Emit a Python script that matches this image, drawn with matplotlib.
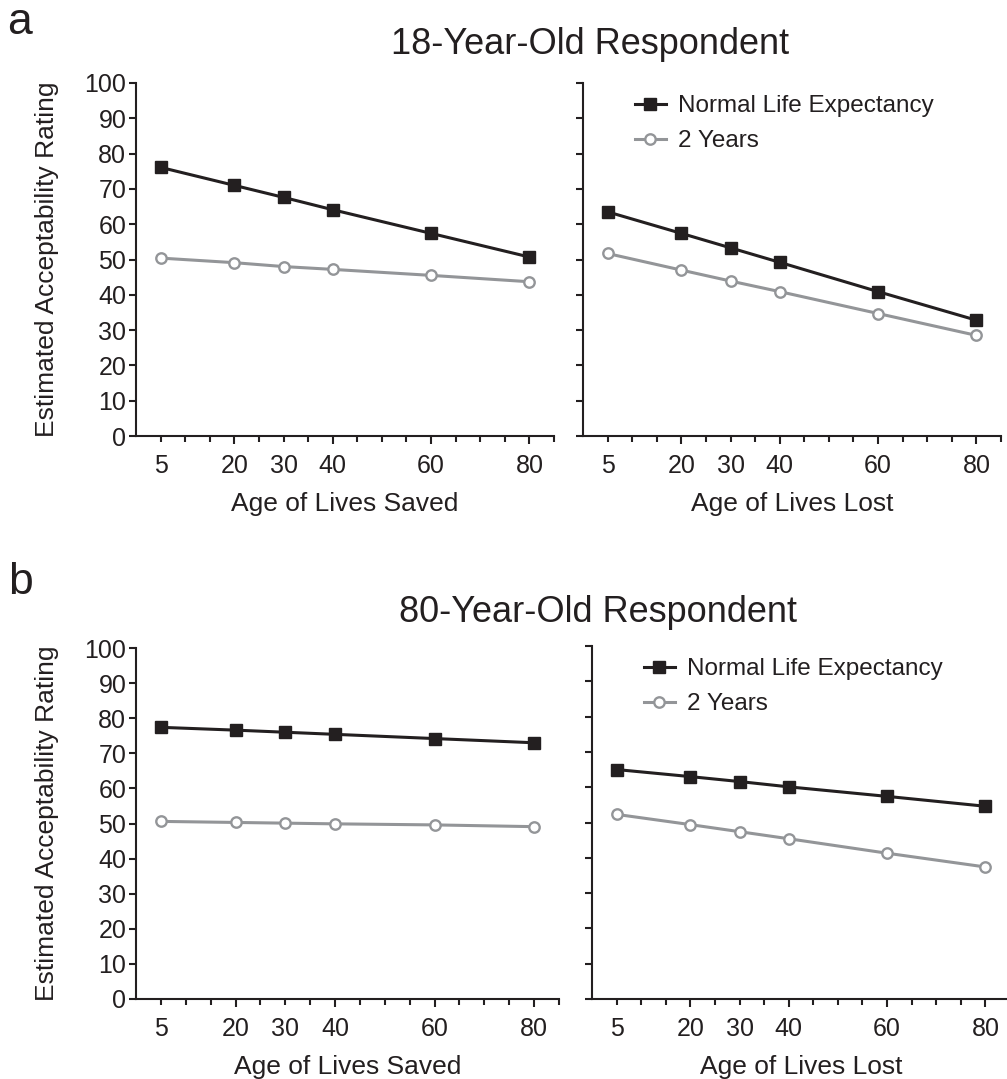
import matplotlib
matplotlib.use("Agg")
import matplotlib.pyplot as plt

plt.rcParams['font.family'] = ['Liberation Sans', 'DejaVu Sans']

W, H = 1007, 1079

AGES = [5, 20, 30, 40, 60, 80]
TICK_LABELS = ['5', '20', '30', '40', '60', '80']

# 18-year-old respondent
A_SAVED_NORMAL = [76.1, 71.0, 67.6, 64.1, 57.4, 50.7]
A_SAVED_2YR = [50.4, 49.1, 48.0, 47.2, 45.5, 43.7]
A_LOST_NORMAL = [63.5, 57.4, 53.3, 49.2, 40.9, 32.8]
A_LOST_2YR = [51.7, 47.0, 43.9, 40.9, 34.7, 28.5]

# 80-year-old respondent
B_SAVED_NORMAL = [77.4, 76.6, 76.0, 75.4, 74.2, 73.0]
B_SAVED_2YR = [50.6, 50.3, 50.1, 49.9, 49.6, 49.1]
B_LOST_NORMAL = [65.0, 63.0, 61.6, 60.1, 57.4, 54.6]
B_LOST_2YR = [52.3, 49.4, 47.4, 45.4, 41.3, 37.4]

SERIES_NAMES = ['Normal Life Expectancy', '2 Years']

DARK = '#231f20'
GREY = '#939598'
TICK_FS = 18
LABEL_FS = 19
LEG_FS = 17.5


def px_axes(fig, x0, y_top, x1, y_bot):
    return fig.add_axes([x0 / W, 1 - y_bot / H, (x1 - x0) / W, (y_bot - y_top) / H])


def style(ax, show_ylabels):
    ax.set_xlim(0, 85)
    ax.set_ylim(0, 100)
    for s in ['top', 'right']:
        ax.spines[s].set_visible(False)
    for s in ['left', 'bottom']:
        ax.spines[s].set_linewidth(1.5)
        ax.spines[s].set_color(DARK)
    ax.set_yticks(range(0, 101, 10))
    if not show_ylabels:
        ax.set_yticklabels([])
    ax.tick_params(axis='y', length=5, width=1.5, color=DARK, labelsize=TICK_FS,
                   labelcolor=DARK, pad=2)
    # long ticks at 20/40/60/80, short ones every 5
    major = [20, 40, 60, 80]
    minor = [v for v in range(5, 90, 5) if v not in major]
    ax.set_xticks(major, labels=['20', '40', '60', '80'])
    ax.set_xticks(minor, labels=[str(v) if str(v) in TICK_LABELS else '' for v in minor],
                  minor=True)
    ax.tick_params(axis='x', which='major', length=6, width=1.5, color=DARK,
                   labelsize=TICK_FS, labelcolor=DARK, pad=7)
    ax.tick_params(axis='x', which='minor', length=4, width=1.5, color=DARK,
                   labelsize=TICK_FS, labelcolor=DARK, pad=9)


def draw(ax, normal, two):
    ax.plot(AGES, normal, color=DARK, lw=2.2, marker='s', ms=8.5, mfc=DARK, mec=DARK,
            label=SERIES_NAMES[0], clip_on=False, zorder=3)
    ax.plot(AGES, two, color=GREY, lw=2.2, marker='o', ms=7.5, mfc='white', mec=GREY,
            mew=1.7, label=SERIES_NAMES[1], clip_on=False, zorder=3)


fig = plt.figure(figsize=(W / 100, H / 100), dpi=100)

ax1 = px_axes(fig, 136, 83, 554, 436)
ax2 = px_axes(fig, 583, 83, 1001, 436)
ax3 = px_axes(fig, 136, 648, 559, 999)
ax4 = px_axes(fig, 592, 646, 1010, 999)

draw(ax1, A_SAVED_NORMAL, A_SAVED_2YR)
draw(ax2, A_LOST_NORMAL, A_LOST_2YR)
draw(ax3, B_SAVED_NORMAL, B_SAVED_2YR)
draw(ax4, B_LOST_NORMAL, B_LOST_2YR)

for ax, lab in [(ax1, True), (ax2, False), (ax3, True), (ax4, False)]:
    style(ax, lab)

for ax, xl in [(ax1, 'Age of Lives Saved'), (ax2, 'Age of Lives Lost'),
               (ax3, 'Age of Lives Saved'), (ax4, 'Age of Lives Lost')]:
    ax.set_xlabel(xl, fontsize=LABEL_FS, color=DARK, labelpad=10)

for ax in (ax1, ax3):
    ax.set_ylabel('Estimated Acceptability Rating', fontsize=LABEL_FS, color=DARK,
                  labelpad=18)

for ax in (ax2, ax4):
    ax.legend(loc='upper left', bbox_to_anchor=(0.125, 0.965), frameon=False,
              fontsize=LEG_FS, handlelength=1.25, handletextpad=0.5, labelspacing=0.53,
              borderaxespad=0, borderpad=0, labelcolor=DARK)

fig.text(590 / W, 1 - 45 / H, '18-Year-Old Respondent', fontsize=26, color=DARK,
         ha='center', va='center')
fig.text(598 / W, 1 - 612 / H, '80-Year-Old Respondent', fontsize=26, color=DARK,
         ha='center', va='center')
fig.text(7 / W, 1 - 22 / H, 'a', fontsize=32, color=DARK, ha='left', va='center')
fig.text(8 / W, 1 - 582 / H, 'b', fontsize=32, color=DARK, ha='left', va='center')

fig.savefig('out.png', dpi=100)
